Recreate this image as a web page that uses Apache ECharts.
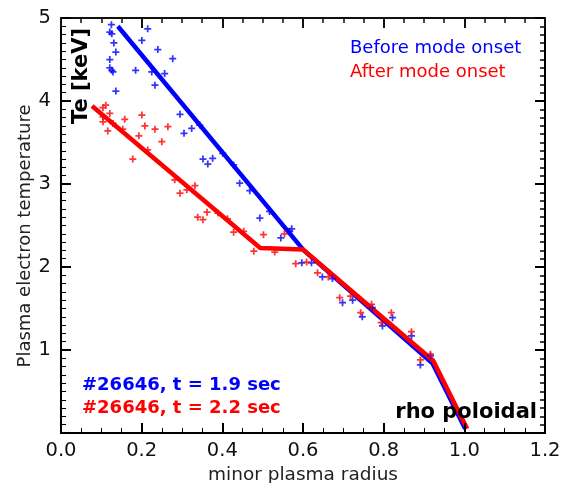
<!DOCTYPE html>
<html>
<head>
<meta charset="utf-8">
<script src="https://cdn.jsdelivr.net/npm/echarts@6/dist/echarts.min.js"></script>
<style>
  html, body { margin: 0; padding: 0; background: #fff; }
  #wrap { position: relative; width: 561px; height: 483px; }
  #chart, #frame { position: absolute; left: 0; top: 0; width: 561px; height: 483px; }
  #frame { pointer-events: none; }
</style>
</head>
<body>
<div id="wrap">
  <div id="chart"></div>
  <div id="frame"></div>
</div>
<script>
// measured Te profiles, [rho, Te keV]
var beforePoints = [
  [0.125, 4.92], [0.121, 4.83], [0.126, 4.81], [0.215, 4.87], [0.2005, 4.73],
  [0.131, 4.70], [0.136, 4.59], [0.240, 4.62], [0.121, 4.50], [0.277, 4.51],
  [0.121, 4.40], [0.126, 4.37], [0.129, 4.35], [0.185, 4.37], [0.225, 4.35],
  [0.257, 4.33], [0.233, 4.19], [0.136, 4.12], [0.295, 3.84], [0.324, 3.67],
  [0.305, 3.61], [0.344, 3.71], [0.352, 3.30], [0.376, 3.31], [0.364, 3.24],
  [0.401, 3.37], [0.428, 3.23], [0.443, 3.01], [0.468, 2.92], [0.517, 2.67],
  [0.493, 2.59], [0.572, 2.46], [0.545, 2.35], [0.567, 2.43], [0.597, 2.05],
  [0.621, 2.05], [0.648, 1.88], [0.673, 1.86], [0.723, 1.60], [0.698, 1.57],
  [0.772, 1.51], [0.747, 1.40], [0.797, 1.29], [0.822, 1.39], [0.869, 1.17],
  [0.916, 0.93], [0.891, 0.82]
];
var afterPoints = [
  [0.111, 3.95], [0.104, 3.92], [0.121, 3.85], [0.104, 3.81], [0.104, 3.75],
  [0.129, 3.73], [0.158, 3.78], [0.2005, 3.83], [0.208, 3.70], [0.153, 3.66],
  [0.116, 3.64], [0.233, 3.66], [0.265, 3.69], [0.193, 3.58], [0.250, 3.51],
  [0.215, 3.41], [0.178, 3.30], [0.282, 3.05], [0.295, 2.89], [0.312, 2.93],
  [0.332, 2.98], [0.362, 2.66], [0.389, 2.65], [0.339, 2.60], [0.352, 2.57],
  [0.413, 2.58], [0.428, 2.42], [0.453, 2.43], [0.502, 2.39], [0.478, 2.19],
  [0.530, 2.18], [0.554, 2.40], [0.582, 2.04], [0.609, 2.06], [0.636, 1.93],
  [0.663, 1.88], [0.691, 1.63], [0.718, 1.65], [0.770, 1.55], [0.743, 1.45],
  [0.819, 1.45], [0.794, 1.33], [0.869, 1.22], [0.916, 0.95], [0.891, 0.88]
];
// piecewise linear fits
var beforeFit = [[0.141, 4.9], [0.602, 2.2], [0.921, 0.84], [1.002, 0.05]];
var afterFit = [[0.077, 3.94], [0.494, 2.23], [0.600, 2.21], [0.923, 0.87], [1.007, 0.05]];

var xTicks = ['0.0', '0.2', '0.4', '0.6', '0.8', '1.0', '1.2'];
var yTicks = ['', '1', '2', '3', '4', '5'];

var plus = 'path://M3,0H5V3H8V5H5V8H3V5H0V3H3Z';
var fontFam = 'DejaVu Sans';
var clear = 'rgba(0,0,0,0)';

// data chart: labels, names, marks
var chart = echarts.init(document.getElementById('chart'));
chart.setOption({
  animation: false,
  grid: { left: 61, right: 16, top: 18, bottom: 50, outerBoundsMode: 'none' },
  xAxis: {
    type: 'value', min: 0, max: 1.2, interval: 0.2,
    name: 'minor plasma radius', nameLocation: 'middle', nameGap: 26,
    nameTextStyle: { fontFamily: fontFam, fontSize: 18.5, color: '#222' },
    axisLine: { show: false }, axisTick: { show: false }, splitLine: { show: false },
    axisLabel: {
      margin: 8, fontFamily: fontFam, fontSize: 19.5, color: '#111',
      formatter: function (v) { return xTicks[Math.round(v / 0.2)]; }
    }
  },
  yAxis: {
    type: 'value', min: 0, max: 5, interval: 1,
    axisLine: { show: false }, axisTick: { show: false }, splitLine: { show: false },
    axisLabel: {
      margin: 10, fontFamily: fontFam, fontSize: 19.5, color: '#111',
      formatter: function (v) { return yTicks[Math.round(v)]; }
    }
  },
  series: [
    { type: 'line', data: beforeFit, symbol: 'none', lineStyle: { color: '#0000ff', width: 4.5 }, z: 3 },
    { type: 'line', data: afterFit, symbol: 'none', lineStyle: { color: '#ff0000', width: 4.5 }, z: 4 },
    { type: 'scatter', data: beforePoints, symbol: plus, symbolSize: 7, itemStyle: { color: '#0000ff' }, z: 5 },
    { type: 'scatter', data: afterPoints, symbol: plus, symbolSize: 7, itemStyle: { color: '#ff0000' }, z: 5 }
  ],
  graphic: [
    { type: 'text', x: 25, y: 236, rotation: Math.PI / 2, z: 10,
      style: { text: 'Plasma electron temperature', fill: '#222', font: '18px "DejaVu Sans"', align: 'center', verticalAlign: 'middle' } },
    { type: 'text', x: 82, y: 76, rotation: Math.PI / 2, z: 10,
      style: { text: 'Te [keV]', fill: '#000', font: 'bold 21px "DejaVu Sans"', align: 'center', verticalAlign: 'middle' } },
    { type: 'text', x: 350, y: 48, z: 10,
      style: { text: 'Before mode onset', fill: '#0000ff', font: '18px "DejaVu Sans"', align: 'left', verticalAlign: 'middle' } },
    { type: 'text', x: 350, y: 72, z: 10,
      style: { text: 'After mode onset', fill: '#ff0000', font: '18px "DejaVu Sans"', align: 'left', verticalAlign: 'middle' } },
    { type: 'text', x: 82, y: 385, z: 10,
      style: { text: '#26646, t = 1.9 sec', fill: '#0000ff', font: 'bold 18px "DejaVu Sans"', align: 'left', verticalAlign: 'middle' } },
    { type: 'text', x: 82, y: 408, z: 10,
      style: { text: '#26646, t = 2.2 sec', fill: '#ff0000', font: 'bold 18px "DejaVu Sans"', align: 'left', verticalAlign: 'middle' } },
    { type: 'text', x: 537, y: 413, z: 10,
      style: { text: 'rho poloidal', fill: '#000', font: 'bold 21px "DejaVu Sans"', align: 'right', verticalAlign: 'middle' } }
  ]
});

// frame chart: box with inward ticks (same set-up as the tick test that rendered)
var frame = echarts.init(document.getElementById('frame'));
frame.setOption({
  animation: false,
  grid: { left: 61, right: 16, top: 18, bottom: 50, outerBoundsMode: 'none' },
  xAxis: [
    { type: 'value', min: 0, max: 1.2, interval: 0.2,
      axisLine: { show: true, onZero: false, lineStyle: { color: '#000', width: 2 } },
      axisTick: { show: true, inside: true, length: 10, lineStyle: { color: '#000', width: 2 } },
      minorTick: { show: true, splitNumber: 4, length: 5, lineStyle: { color: '#000' } },
      axisLabel: { color: clear }, splitLine: { show: false } },
    { type: 'value', position: 'top', min: 0, max: 1.2, interval: 0.2,
      axisLine: { show: true, onZero: false, lineStyle: { color: '#111', width: 2 } },
      axisTick: { show: true, inside: true, length: 10, lineStyle: { color: '#111', width: 2 } },
      minorTick: { show: true, splitNumber: 4, length: 5, lineStyle: { color: '#111', width: 1.5 } },
      axisLabel: { show: false }, splitLine: { show: false } }
  ],
  yAxis: [
    { type: 'value', min: 0, max: 5, interval: 1,
      axisLine: { show: true, onZero: false, lineStyle: { color: '#000', width: 2 } },
      axisTick: { show: true, inside: true, length: 10, lineStyle: { color: '#000', width: 2 } },
      minorTick: { show: true, splitNumber: 10, length: 5, lineStyle: { color: '#000' } },
      axisLabel: { color: clear }, splitLine: { show: false } },
    { type: 'value', position: 'right', min: 0, max: 5, interval: 1,
      axisLine: { show: true, onZero: false, lineStyle: { color: '#000', width: 2 } },
      axisTick: { show: true, inside: true, length: 10, lineStyle: { color: '#000', width: 2 } },
      minorTick: { show: true, splitNumber: 10, length: 5, lineStyle: { color: '#000', width: 1.5 } },
      axisLabel: { show: false }, splitLine: { show: false } }
  ],
  series: [{ type: 'line', data: afterFit, symbol: 'none', lineStyle: { opacity: 0 }, silent: true }]
});
</script>
</body>
</html>
